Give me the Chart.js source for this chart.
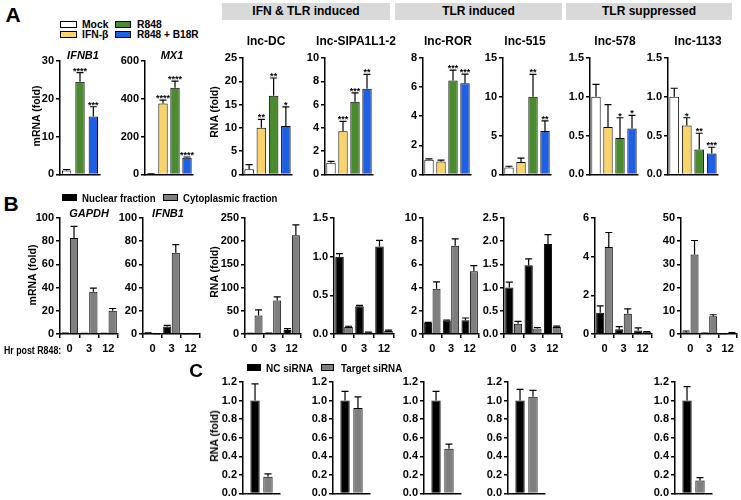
<!DOCTYPE html>
<html>
<head>
<meta charset="utf-8">
<title>lncRNA expression panels</title>
<script src="https://cdn.jsdelivr.net/npm/chart.js@4.4.0/dist/chart.umd.min.js"></script>
<style>
  body { margin: 0; background: #fff; }
  #fig { position: relative; width: 741px; height: 500px; overflow: hidden;
         font-family: "Liberation Sans", Arial, Helvetica, sans-serif; color: #000; }
  #fig div { position: absolute; white-space: nowrap; font-weight: bold; }
  .hdr { background: #d9d9d9; text-align: center; font-size: 12px; line-height: 17px; height: 17px; }
  .sw { border: 1px solid #000; box-sizing: border-box; }
</style>
</head>
<body>
<div id="fig"></div>
<script>
// ---------- Panel A: expression after treatment ----------
const groupsA = ['Mock', 'IFN-β', 'R848', 'R848 + B18R'];
const groupsIfnb1 = ['Mock', 'R848', 'R848 + B18R'];   // no IFN-β bar for IFNB1

const ifnb1Mean = [1.0, 24.5, 15.3];
const ifnb1Sd   = [0.3, 2.4, 2.6];
const ifnb1Sig  = ['', '****', '***'];

const mx1Mean = [2, 375, 458, 88];
const mx1Sd   = [1, 18, 35, 4];
const mx1Sig  = ['', '****', '****', '****'];

const dcMean = [1.1, 10.0, 16.9, 10.4];
const dcSd   = [1.0, 1.8, 3.8, 4.1];
const dcSig  = ['', '**', '**', '*'];

const sipaMean = [1.0, 3.7, 6.25, 7.35];
const sipaSd   = [0.12, 0.85, 0.75, 1.25];
const sipaSig  = ['', '***', '***', '**'];

const rorMean = [1.0, 0.88, 6.45, 6.27];
const rorSd   = [0.07, 0.1, 0.72, 0.62];
const rorSig  = ['', '', '***', '***'];

const l515Mean = [0.9, 1.6, 10.0, 5.6];
const l515Sd   = [0.15, 0.5, 2.9, 1.3];
const l515Sig  = ['', '', '**', '**'];

const l578Mean = [1.0, 0.61, 0.47, 0.59];
const l578Sd   = [0.16, 0.29, 0.26, 0.17];
const l578Sig  = ['', '', '*', '*'];

const l1133Mean = [1.0, 0.63, 0.32, 0.27];
const l1133Sd   = [0.11, 0.1, 0.21, 0.08];
const l1133Sig  = ['', '*', '**', '***'];

// ---------- Panel B: nuclear / cytoplasmic fractions ----------
const hoursB = ['0', '3', '12'];

const gapdhNuc = [0.6, 0.4, 0.4],   gapdhNucSd = [0.2, 0.1, 0.1];
const gapdhCyt = [82.8, 36.5, 20],  gapdhCytSd = [10, 3, 2];
const ifnbBNuc = [0.8, 6.5, 0.3],   ifnbBNucSd = [0.2, 1, 0.1];
const ifnbBCyt = [0.3, 70, 0.3],    ifnbBCytSd = [0.1, 7, 0.1];
const dcBNuc = [1, 1.5, 8.5],       dcBNucSd = [0.3, 0.3, 3];
const dcBCyt = [40, 72, 213],       dcBCytSd = [12, 8, 22];
const sipaBNuc = [1.0, 0.36, 1.13], sipaBNucSd = [0.04, 0.01, 0.08];
const sipaBCyt = [0.09, 0.02, 0.04], sipaBCytSd = [0.01, 0.005, 0.01];
const rorBNuc = [0.95, 1.15, 1.18], rorBNucSd = [0.05, 0.05, 0.2];
const rorBCyt = [3.9, 7.6, 5.4],    rorBCytSd = [0.6, 0.6, 0.5];
const l515BNuc = [1.0, 1.48, 1.94], l515BNucSd = [0.12, 0.14, 0.2];
const l515BCyt = [0.22, 0.12, 0.15], l515BCytSd = [0.05, 0.02, 0.02];
const l578BNuc = [1.1, 0.25, 0.18], l578BNucSd = [0.35, 0.13, 0.14];
const l578BCyt = [4.5, 1.05, 0.1],  l578BCytSd = [0.75, 0.25, 0.03];
const l1133BNuc = [0.8, 0.25, 0.1], l1133BNucSd = [0.5, 0.1, 0.05];
const l1133BCyt = [34.3, 7.6, 0.4], l1133BCytSd = [6, 0.7, 0.2];

// ---------- Panel C: knockdown ----------
const kdDc   = [1.0, 0.18], kdDcSd   = [0.18, 0.03];
const kdSipa = [1.0, 0.92], kdSipaSd = [0.1, 0.12];
const kdRor  = [1.0, 0.48], kdRorSd  = [0.1, 0.05];
const kd515  = [1.0, 1.04], kd515Sd  = [0.12, 0.07];
const kd1133 = [1.0, 0.14], kd1133Sd = [0.15, 0.03];

// ---------- styles ----------
const FONT = '"Liberation Sans", Arial, Helvetica, sans-serif';
const WHITE = '#ffffff', YELLOW = '#f9d46a', GREEN = '#4b8b2f', BLUE = '#1f5fe3';
const BLACK = '#000000', GRAY = '#7f7f7f';
const colorsA = [WHITE, YELLOW, GREEN, BLUE];
const colorsIfnb1 = [WHITE, GREEN, BLUE];

Chart.defaults.animation = false;
const fig = document.getElementById('fig');

// error bars (upper only) and significance stars
const errPlugin = {
  id: 'err',
  afterDatasetsDraw(chart) {
    const ctx = chart.ctx, ys = chart.scales.y;
    chart.data.datasets.forEach((ds, di) => {
      chart.getDatasetMeta(di).data.forEach((bar, i) => {
        const sd = ds.sd ? ds.sd[i] : 0;
        const yTop = ys.getPixelForValue(ds.data[i] + sd);
        ctx.save();
        ctx.strokeStyle = '#000';
        ctx.lineWidth = 1.2;
        if (sd > 0) {
          ctx.beginPath();
          ctx.moveTo(bar.x, bar.y);
          ctx.lineTo(bar.x, yTop);
          ctx.moveTo(bar.x - 3.5, yTop);
          ctx.lineTo(bar.x + 3.5, yTop);
          ctx.stroke();
        }
        if (ds.sig && ds.sig[i]) {
          ctx.fillStyle = '#000';
          ctx.font = 'bold 9px ' + FONT;
          ctx.textAlign = 'center';
          ctx.textBaseline = 'bottom';
          ctx.fillText(ds.sig[i], bar.x, yTop + 3);
        }
        ctx.restore();
      });
    });
  }
};

const YW = 30;
function plot(g, labels, datasets, ax) {
  const padTop = 10, padBot = g.xh > 10 ? 0 : 6;
  const W = YW + g.w + 3, H = (g.base - g.top) + padTop + g.xh + padBot;
  const cv = document.createElement('canvas');
  cv.width = W; cv.height = H;
  cv.style.cssText = `position:absolute;left:${g.x - YW}px;top:${g.top - padTop}px;width:${W}px;height:${H}px`;
  fig.appendChild(cv);
  const tickFont = { family: FONT, size: 11, weight: 'bold' };
  new Chart(cv, {
    type: 'bar',
    data: { labels: labels, datasets: datasets },
    options: {
      responsive: false,
      devicePixelRatio: 1,
      layout: { padding: { top: padTop, bottom: padBot, left: 0, right: 3 } },
      plugins: { legend: { display: false }, tooltip: { enabled: false } },
      scales: {
        y: {
          min: 0, max: ax.max,
          afterFit: s => { s.width = YW; },
          ticks: { stepSize: ax.step, color: '#000', font: tickFont, padding: 2,
                   callback: v => Number(v).toFixed(ax.dec || 0) },
          grid: { drawOnChartArea: false, tickLength: 4, color: '#000', lineWidth: 1.5 },
          border: { display: true, color: '#000', width: 1.5 }
        },
        x: {
          afterFit: s => { s.height = g.xh; },
          ticks: { display: !!ax.showX, color: '#000', font: tickFont, padding: 4,
                   maxRotation: 0, autoSkip: false },
          grid: { display: !!ax.showX, drawOnChartArea: false, tickLength: 4,
                  color: '#000', lineWidth: 1.5 },
          border: { display: true, color: '#000', width: 1.5 }
        }
      }
    },
    plugins: [errPlugin]
  });
}

function barsA(mean, sd, sig, colors, bp) {
  return [{ data: mean, sd: sd, sig: sig, backgroundColor: colors, borderColor: '#000',
            borderWidth: 1, categoryPercentage: 1, barPercentage: bp || 0.78 }];
}
function barsB(nuc, nucSd, cyt, cytSd) {
  return [
    { data: nuc, sd: nucSd, backgroundColor: BLACK, borderColor: '#000', borderWidth: 1,
      categoryPercentage: 0.9, barPercentage: 0.95 },
    { data: cyt, sd: cytSd, backgroundColor: GRAY, borderColor: '#000', borderWidth: 1,
      categoryPercentage: 0.9, barPercentage: 0.95 }
  ];
}
function barsC(vals, sds) {
  return [
    { data: [vals[0]], sd: [sds[0]], backgroundColor: BLACK, borderColor: '#000', borderWidth: 1,
      categoryPercentage: 0.7, barPercentage: 0.72 },
    { data: [vals[1]], sd: [sds[1]], backgroundColor: GRAY, borderColor: '#000', borderWidth: 1,
      categoryPercentage: 0.7, barPercentage: 0.72 }
  ];
}

// ---------- text helpers ----------
function txt(s, cx, cy, size, extra) {
  const d = document.createElement('div');
  d.textContent = s;
  d.style.left = cx + 'px';
  d.style.top = cy + 'px';
  d.style.fontSize = size + 'px';
  d.style.transform = 'translate(-50%,-50%)' + (extra && extra.rot ? ' rotate(-90deg)' : '');
  if (extra && extra.italic) d.style.fontStyle = 'italic';
  fig.appendChild(d);
}
// left-aligned, slightly condensed (legend style)
function txtL(s, x, cy, size, sx) {
  const d = document.createElement('div');
  d.textContent = s;
  d.style.left = x + 'px';
  d.style.top = cy + 'px';
  d.style.fontSize = size + 'px';
  d.style.transformOrigin = 'left center';
  d.style.transform = `translateY(-50%) scaleX(${sx || 0.88})`;
  fig.appendChild(d);
}
function swatch(x, y, w, h, color) {
  const d = document.createElement('div');
  d.className = 'sw';
  d.style.cssText = `left:${x}px;top:${y}px;width:${w}px;height:${h}px;background:${color}`;
  fig.appendChild(d);
}
function header(s, x, w) {
  const d = document.createElement('div');
  d.className = 'hdr';
  d.textContent = s;
  d.style.left = x + 'px';
  d.style.top = '3px';
  d.style.width = w + 'px';
  fig.appendChild(d);
}

// ---------- Panel A ----------
const gA1 = { top: 61, base: 175, xh: 2 };
const gA = { top: 58, base: 175, xh: 2 };
plot({ ...gA1, x: 60, w: 40 }, groupsIfnb1, barsA(ifnb1Mean, ifnb1Sd, ifnb1Sig, colorsIfnb1, 0.7), { max: 30, step: 10 });
plot({ ...gA1, x: 145, w: 48 }, groupsA, barsA(mx1Mean, mx1Sd, mx1Sig, colorsA), { max: 600, step: 200 });
plot({ ...gA, x: 243, w: 49 }, groupsA, barsA(dcMean, dcSd, dcSig, colorsA), { max: 25, step: 5 });
plot({ ...gA, x: 325, w: 48 }, groupsA, barsA(sipaMean, sipaSd, sipaSig, colorsA), { max: 10, step: 2 });
plot({ ...gA, x: 423, w: 48 }, groupsA, barsA(rorMean, rorSd, rorSig, colorsA), { max: 8, step: 2 });
plot({ ...gA, x: 503, w: 48 }, groupsA, barsA(l515Mean, l515Sd, l515Sig, colorsA), { max: 15, step: 5 });
plot({ ...gA, x: 590, w: 48 }, groupsA, barsA(l578Mean, l578Sd, l578Sig, colorsA), { max: 1.5, step: 0.5, dec: 1 });
plot({ ...gA, x: 668, w: 50 }, groupsA, barsA(l1133Mean, l1133Sd, l1133Sig, colorsA), { max: 1.5, step: 0.5, dec: 1 });

// ---------- Panel B ----------
const gB = { top: 218, base: 334, xh: 24 };
plot({ ...gB, x: 60, w: 58 }, hoursB, barsB(gapdhNuc, gapdhNucSd, gapdhCyt, gapdhCytSd), { max: 100, step: 20, showX: true });
plot({ ...gB, x: 143, w: 57 }, hoursB, barsB(ifnbBNuc, ifnbBNucSd, ifnbBCyt, ifnbBCytSd), { max: 100, step: 20, showX: true });
plot({ ...gB, x: 245, w: 56 }, hoursB, barsB(dcBNuc, dcBNucSd, dcBCyt, dcBCytSd), { max: 250, step: 50, showX: true });
plot({ ...gB, x: 334, w: 60 }, hoursB, barsB(sipaBNuc, sipaBNucSd, sipaBCyt, sipaBCytSd), { max: 1.5, step: 0.5, dec: 1, showX: true });
plot({ ...gB, x: 423, w: 56 }, hoursB, barsB(rorBNuc, rorBNucSd, rorBCyt, rorBCytSd), { max: 10, step: 2, showX: true });
plot({ ...gB, x: 504, w: 58 }, hoursB, barsB(l515BNuc, l515BNucSd, l515BCyt, l515BCytSd), { max: 2.5, step: 0.5, dec: 1, showX: true });
plot({ ...gB, x: 595, w: 57 }, hoursB, barsB(l578BNuc, l578BNucSd, l578BCyt, l578BCytSd), { max: 6, step: 2, showX: true });
plot({ ...gB, x: 681, w: 56 }, hoursB, barsB(l1133BNuc, l1133BNucSd, l1133BCyt, l1133BCytSd), { max: 50, step: 10, showX: true });

// ---------- Panel C ----------
const gC = { top: 382, base: 494, xh: 2 };
const axC = { max: 1.2, step: 0.2, dec: 1 };
plot({ ...gC, x: 243, w: 37 }, [''], barsC(kdDc, kdDcSd), axC);
plot({ ...gC, x: 333, w: 37 }, [''], barsC(kdSipa, kdSipaSd), axC);
plot({ ...gC, x: 424, w: 37 }, [''], barsC(kdRor, kdRorSd), axC);
plot({ ...gC, x: 508, w: 37 }, [''], barsC(kd515, kd515Sd), axC);
plot({ ...gC, x: 675, w: 37 }, [''], barsC(kd1133, kd1133Sd), axC);

// ---------- labels ----------
txt('A', 13, 15, 21);
txt('B', 11, 204, 21);
txt('C', 196, 371, 19);

swatch(60, 21, 17, 7, WHITE);  txtL(groupsA[0], 82, 24, 11.5, 0.9);
swatch(115, 21, 16, 7, GREEN); txtL(groupsA[2], 137, 24, 11.5, 0.9);
swatch(60, 31, 17, 7, YELLOW); txtL(groupsA[1], 82, 34, 11.5, 0.9);
swatch(115, 31, 16, 7, BLUE);  txtL(groupsA[3], 137, 34, 11.5, 0.88);

header('IFN & TLR induced', 222, 168);
header('TLR induced', 395, 167);
header('TLR suppressed', 566, 166);

txt('IFNB1', 83, 55, 11, { italic: true });
txt('MX1', 172, 55, 11, { italic: true });
txt('lnc-DC', 266, 41, 12);
txt('lnc-SIPA1L1-2', 356, 41, 12);
txt('lnc-ROR', 448, 41, 12);
txt('lnc-515', 525, 41, 12);
txt('lnc-578', 615, 41, 12);
txt('lnc-1133', 698, 41, 12);

txt('mRNA (fold)', 36, 116, 10.5, { rot: true });
txt('RNA (fold)', 214, 112, 10.5, { rot: true });

swatch(62, 194, 15, 7, BLACK); txtL('Nuclear fraction', 82, 198, 11.5, 0.84);
swatch(163, 194, 15, 7, GRAY); txtL('Cytoplasmic fraction', 183, 198, 11.5, 0.83);
txt('GAPDH', 89, 213, 11, { italic: true });
txt('IFNB1', 168, 213, 11, { italic: true });
txt('mRNA (fold)', 32, 275, 10.5, { rot: true });
txt('RNA (fold)', 214, 272, 10.5, { rot: true });
txtL('Hr post R848:', 4, 350, 10, 0.88);

swatch(247, 364, 14, 7, BLACK); txtL('NC siRNA', 266, 368, 11.5, 0.87);
swatch(321, 364, 13, 7, GRAY);  txtL('Target siRNA', 341, 368, 11.5, 0.85);
txt('RNA (fold)', 214, 436, 10.5, { rot: true });
</script>
</body>
</html>
